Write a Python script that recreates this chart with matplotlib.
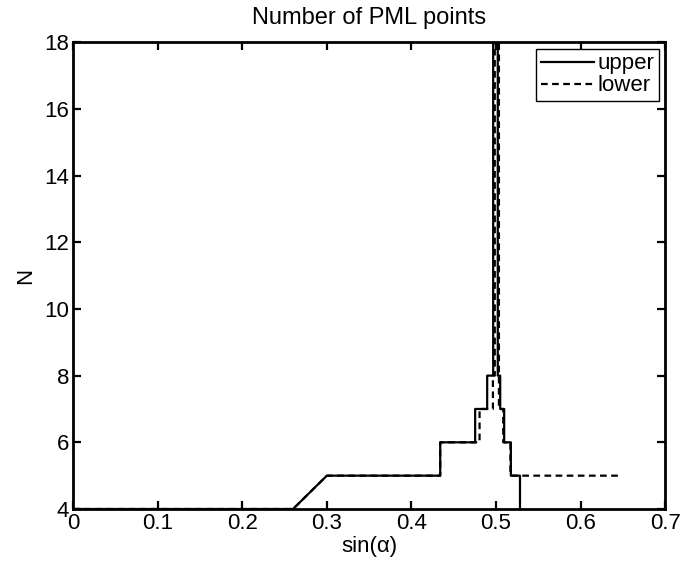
import numpy as np
import matplotlib.pyplot as plt
from matplotlib.ticker import FormatStrFormatter

plt.rcParams['font.family'] = ['Liberation Sans', 'DejaVu Sans']
plt.rcParams['font.size'] = 16

# step curves (sin(alpha), N)
upper_x = [0.0, 0.26, 0.30, 0.434, 0.434, 0.4753, 0.4753, 0.4895, 0.4895,
           0.4966, 0.4966, 0.502, 0.502, 0.5049, 0.5049, 0.5096, 0.5096,
           0.5175, 0.5175, 0.5283, 0.5283]
upper_n = [4, 4, 5, 5, 6, 6, 7, 7, 8,
           8, 30, 30, 8, 8, 7, 7, 6,
           6, 5, 5, 3]

lower_x = [0.0, 0.26, 0.30, 0.434, 0.434, 0.4805, 0.4805, 0.4963, 0.4963,
           0.4985, 0.4985, 0.5034, 0.5034, 0.5085, 0.5085, 0.517, 0.517, 0.645]
lower_n = [4, 4, 5, 5, 6, 6, 7, 7, 8,
           8, 30, 30, 7, 7, 6, 6, 5, 5]

fig = plt.figure(figsize=(6.83, 5.70), dpi=100)
ax = fig.add_axes([0.107, 0.107, 0.867, 0.819])

ax.plot(upper_x, upper_n, color='black', linewidth=1.6, label='upper')
ax.plot(lower_x, lower_n, color='black', linewidth=1.6, linestyle=(0, (3, 2)), label='lower')

ax.set_xlim(0, 0.7)
ax.set_ylim(4, 18)
ax.set_xticks(np.arange(0, 0.71, 0.1))
ax.set_yticks(np.arange(4, 19, 2))
ax.xaxis.set_major_formatter(FormatStrFormatter('%g'))
ax.tick_params(direction='in', top=True, right=True, length=6, width=1.6, pad=3)
for s in ax.spines.values():
    s.set_linewidth(2.0)

ax.set_title('Number of PML points', fontsize=17, pad=13)
ax.set_xlabel('sin(α)', labelpad=1.5)
ax.set_ylabel('N', labelpad=6)

leg = ax.legend(loc='upper right', fancybox=False, edgecolor='black', framealpha=1,
                borderaxespad=0.3, handlelength=2.4, handletextpad=0.15,
                borderpad=0.2, labelspacing=0.05)
leg.get_frame().set_linewidth(1.0)

fig.savefig('out.png', dpi=100)
